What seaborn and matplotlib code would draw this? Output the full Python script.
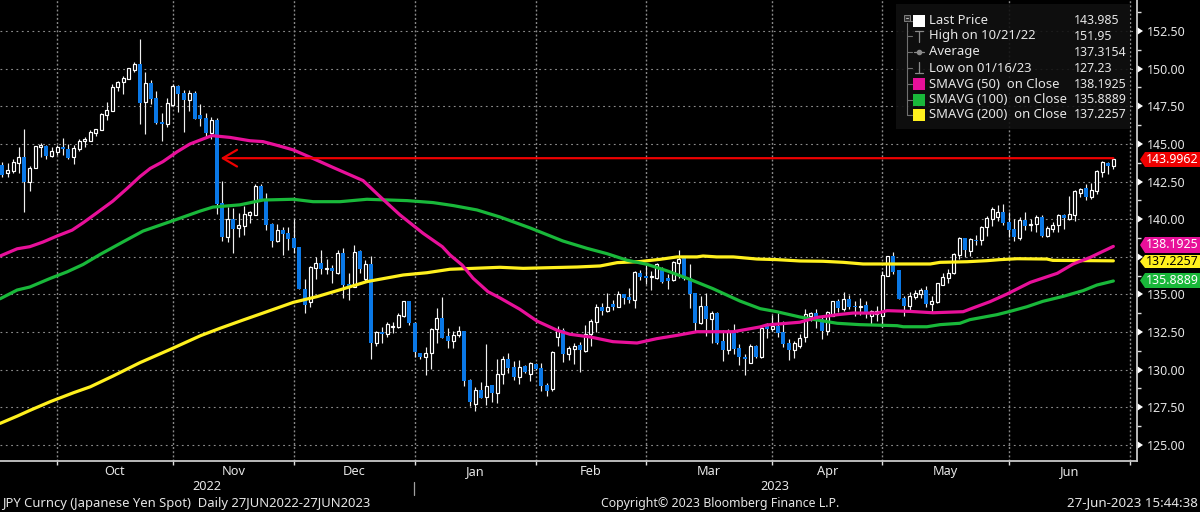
import matplotlib
matplotlib.use("Agg")
import matplotlib.pyplot as plt
from matplotlib.patches import Polygon, Rectangle
import numpy as np
import seaborn as sns

# daily candles
opens = [143.60,143.09,143.22,143.75,144.15,142.44,143.37,144.81,144.88,144.22,
         144.48,144.79,144.66,144.15,144.66,145.21,145.21,145.74,145.92,146.92,
         147.21,148.80,149.11,149.29,149.93,150.28,147.80,149.02,148.02,146.45,
         146.32,147.58,148.84,148.36,147.91,148.36,146.90,146.70,145.70,146.59,
         141.05,138.84,139.99,139.39,139.57,140.28,140.28,142.23,141.21,139.68,
         138.55,139.28,139.06,138.73,138.13,135.36,134.52,136.78,137.06,136.67,
         136.78,136.40,137.73,135.69,135.51,137.88,136.05,137.00,131.75,132.52,
         132.35,132.83,132.86,133.57,134.56,133.12,131.08,130.82,131.08,132.68,
         133.45,132.24,131.93,132.30,132.55,129.31,127.70,128.65,128.16,128.96,
         128.43,129.73,130.69,130.18,129.51,130.22,129.73,130.35,130.09,128.98,
         128.69,132.17,132.61,131.06,131.37,131.64,131.24,132.35,133.17,134.16,
         133.88,134.39,134.19,135.01,134.83,134.65,136.45,136.22,136.16,136.11,
         136.71,136.11,135.94,137.11,137.44,136.11,135.07,133.12,134.23,133.39,
         133.74,131.91,131.28,132.46,131.42,130.86,130.47,131.55,130.86,132.90,
         132.68,132.90,132.52,131.79,131.31,131.57,132.15,133.54,133.74,133.36,
         132.57,133.59,134.54,134.03,134.72,134.25,134.14,134.29,133.59,133.70,
         133.59,136.24,137.55,136.62,134.74,134.25,134.80,135.03,135.27,134.36,
         134.47,135.65,136.09,136.40,137.64,138.75,137.86,138.64,138.61,139.46,
         140.01,140.12,140.45,139.83,139.34,138.75,139.94,139.63,139.65,140.16,
         138.90,139.37,139.63,140.28,140.03,140.30,141.71,142.05,141.45,141.85,
         143.11,143.73,143.51]
closes = [142.93,143.26,143.77,144.15,142.44,143.40,144.86,144.90,144.22,144.53,
          144.77,144.64,144.08,144.70,145.21,145.30,145.76,145.96,146.98,147.25,
          148.76,149.13,149.35,150.02,150.31,147.74,149.02,147.96,146.36,146.34,
          147.69,148.84,148.31,147.91,148.36,146.67,146.67,145.70,146.59,141.01,
          138.84,140.01,139.32,139.59,140.32,140.48,142.23,141.27,139.61,138.55,
          139.28,139.01,138.68,138.11,135.36,134.30,136.82,137.06,136.67,136.73,
          136.58,137.73,135.62,135.51,137.84,136.67,137.00,131.79,132.52,132.37,
          133.01,132.92,133.63,134.56,133.12,131.19,130.82,131.08,132.72,133.45,
          132.08,131.90,132.32,132.55,129.25,127.87,128.65,128.09,128.94,128.43,
          129.69,130.69,130.09,129.51,130.20,129.85,130.44,130.02,128.91,128.58,
          131.20,132.61,131.02,131.42,131.60,131.28,132.35,133.23,134.19,133.90,
          134.16,134.19,135.05,134.76,134.61,136.49,136.18,136.11,136.22,137.04,
          135.85,135.89,137.15,137.33,136.00,135.01,133.12,134.23,133.39,133.74,
          131.79,131.28,132.52,131.35,130.86,130.73,131.55,130.84,132.75,132.68,
          132.90,132.41,131.68,131.31,131.79,132.13,133.70,133.74,133.36,132.57,
          133.81,134.54,134.07,134.69,134.14,134.18,134.25,133.81,133.87,133.92,
          136.29,137.55,136.47,134.69,134.25,134.87,135.11,135.27,134.36,134.54,
          135.73,136.18,136.42,137.68,138.75,137.97,138.66,138.57,139.50,140.05,
          140.67,140.45,139.72,139.30,138.79,139.97,139.54,139.70,140.14,138.86,
          139.41,139.61,140.28,140.10,140.34,141.89,142.03,141.45,141.94,143.22,
          143.82,143.51,143.99]
highs = [143.82,143.71,143.97,144.81,145.99,143.55,144.86,145.03,144.92,144.81,
         144.92,145.37,144.99,144.92,145.30,145.48,145.92,146.01,147.03,147.76,
         148.96,149.20,149.51,150.06,150.42,151.95,149.80,149.24,148.51,147.03,
         148.02,148.96,148.91,148.58,148.58,148.51,147.63,147.03,146.81,146.70,
         142.54,140.83,140.72,140.39,140.87,140.56,142.34,142.34,141.72,139.72,
         139.66,139.46,139.46,139.99,138.17,136.02,136.91,137.46,137.95,137.33,
         136.95,137.95,138.06,136.40,138.28,137.95,137.29,137.55,132.59,132.86,
         133.19,133.19,133.74,134.58,134.58,133.19,131.08,131.48,132.79,134.12,
         134.85,132.75,132.59,132.90,132.57,129.36,128.87,129.20,131.70,128.98,
         130.69,130.91,131.13,130.58,130.62,130.31,130.51,130.42,130.47,129.14,
         131.24,132.90,132.75,131.57,131.79,131.86,132.95,133.39,134.39,134.45,
         135.12,134.61,135.23,135.05,135.45,136.56,136.60,136.96,136.56,137.11,
         136.82,136.34,137.22,137.93,137.55,137.00,135.12,134.90,135.12,133.90,
         133.83,132.61,132.68,133.01,131.68,131.02,131.73,131.64,132.84,133.12,
         133.63,133.79,133.23,132.02,131.91,132.35,134.03,133.83,134.03,133.59,
         133.92,134.58,134.69,135.18,134.98,134.54,134.74,134.54,133.96,134.25,
         136.53,137.57,137.84,136.64,134.91,135.14,135.29,135.40,135.54,134.87,
         135.76,136.40,136.69,137.75,138.79,138.75,138.75,138.97,139.54,140.23,
         140.78,140.94,141.01,140.45,140.01,140.12,140.45,140.01,140.28,140.28,
         139.52,139.79,140.34,140.34,141.52,141.96,142.07,142.34,142.38,143.29,
         143.89,143.77,144.04]
lows = [142.78,142.78,143.04,143.09,140.45,141.87,143.37,144.15,144.02,144.13,
        144.26,144.26,143.97,143.64,144.55,144.81,145.21,145.52,145.92,146.59,
        147.21,148.53,148.31,149.29,149.75,146.32,145.65,147.65,146.32,145.21,
        146.10,147.54,147.14,145.81,147.18,146.67,146.19,145.43,145.30,140.34,
        138.55,138.50,137.77,138.84,138.95,139.77,140.28,141.27,139.28,138.17,
        138.50,137.62,137.95,137.77,135.36,133.74,134.19,136.05,136.33,136.36,
        135.74,136.36,134.74,134.63,135.51,136.40,135.91,130.69,131.59,131.75,
        132.19,132.41,132.75,133.52,132.97,130.82,130.69,129.62,130.07,131.75,
        132.08,131.46,131.46,132.19,128.91,127.61,127.23,128.09,127.65,127.85,
        127.76,129.07,129.80,129.29,129.07,129.80,129.25,130.00,128.58,128.25,
        128.55,131.55,130.51,130.62,130.40,129.87,131.20,131.55,132.50,133.61,
        133.85,133.94,134.19,134.39,134.43,134.08,135.96,135.67,135.32,136.05,
        135.78,135.38,135.89,136.11,135.94,134.12,132.57,133.06,132.24,131.79,
        131.73,130.58,131.06,131.02,130.31,129.65,130.42,130.80,130.80,132.13,
        132.57,132.19,131.53,130.66,130.80,131.46,131.81,133.25,132.77,132.04,
        132.32,133.59,133.81,133.92,134.03,133.59,133.65,133.43,133.03,133.25,
        132.81,136.20,136.35,134.69,133.54,133.92,134.69,134.74,134.14,133.85,
        134.43,135.65,135.76,136.35,137.35,137.46,137.57,138.30,138.30,138.90,
        139.57,139.85,139.63,138.84,138.53,138.61,139.30,139.19,139.12,138.84,
        138.84,139.12,139.12,139.34,139.94,139.90,141.45,141.27,141.34,141.67,
        142.78,143.00,143.33]

# moving averages, sampled along each curve (x = candle number)
sma50_x = [-0.4,2.7,5,7.4,9.9,12.7,14.7,17.2,20.1,22.7,25,26.9,29.2,31.8,34.1,36.3,38.1,41.4,45,47.4,50,
           52.9,56,60.1,65.6,68.7,72.3,76.5,80,81.4,83.6,85.6,88.3,90.5,94.1,97.2,100.9,103.2,106.9,111,
           115.4,119,122.7,126.3,132.9,137.8,139,145,148.1,151.8,154.7,159.1,160.9,165,169.2,174.7,176.5,
           179.6,182.7,186.9,191.8,194.7,197.8,202]
sma50_y = [137.55,138.03,138.17,138.48,138.87,139.27,139.76,140.42,141.2,142.04,142.82,143.37,143.82,144.48,
           144.99,145.30,145.55,145.43,145.21,145.15,144.90,144.60,144.11,143.44,142.56,141.49,140.28,139.06,
           138.17,137.62,136.95,136.07,135.18,134.76,134.01,133.23,132.61,132.35,132.17,131.86,131.77,132.06,
           132.28,132.52,132.52,132.84,132.97,133.15,133.47,133.65,133.76,133.76,133.92,133.87,133.78,133.85,
           134.10,134.52,135.03,135.80,136.40,137.02,137.46,138.19]
sma100_x = [-0.4,2.7,5,8.7,11.8,14.7,17.8,22,25.6,30.5,36,38.3,43.2,47.4,52.9,56.5,61.4,66.3,73.6,78.3,82,
            86.3,90.5,96,101.9,106.3,109.9,113.6,117.2,120.9,125,129.2,134.1,137.8,140.8,145,148.1,151.8,
            155.9,162.7,163.8,168.1,170.5,174.1,175.9,180.8,183.2,186.3,189.2,192.9,196.5,199,202]
sma100_y = [134.71,135.29,135.49,136.06,136.50,136.99,137.66,138.5,139.21,139.83,140.54,140.80,140.95,141.27,
            141.32,141.16,141.16,141.32,141.23,141.10,140.90,140.61,140.14,139.41,138.55,138.06,137.71,137.27,
            137.0,136.56,136.0,135.38,134.56,134.05,133.85,133.5,133.30,133.08,132.99,132.92,132.85,132.85,
            132.99,133.08,133.32,133.65,133.87,134.18,134.54,134.87,135.25,135.62,135.89]
sma200_x = [-0.4,2.7,5,8.7,12.9,16,20.1,25,30.5,36,39.6,43.8,48.1,52.9,57.2,61.9,66.3,72.9,77.2,81.4,85.6,
            90.5,94.7,104.5,108.7,111.8,115.9,119.6,122.7,126.3,127.4,129.9,132.9,137.2,140.8,145,149.2,
            152.9,156.5,168.7,170.5,175.4,179,181.4,184.5,189.9,191,202]
sma200_y = [126.43,126.91,127.29,127.87,128.46,128.86,129.57,130.46,131.34,132.25,132.75,133.30,133.85,134.47,
            134.85,135.36,135.85,136.29,136.44,136.67,136.73,136.80,136.73,136.82,136.89,137.11,137.18,137.33,
            137.49,137.49,137.55,137.49,137.49,137.35,137.31,137.22,137.20,137.13,137.02,137.02,137.13,137.17,
            137.24,137.31,137.37,137.35,137.26,137.23]

y_ticks = [125, 127.5, 130, 132.5, 135, 137.5, 140, 142.5, 145, 147.5, 150, 152.5]
month_ticks = [10, 31, 53, 75, 97, 117, 140, 160, 183, 205]
month_labels = ["Oct", "Nov", "Dec", "Jan", "Feb", "Mar", "Apr", "May", "Jun"]

legend_rows = [("Last Price", "143.985"), ("High on 10/21/22", "151.95"), ("Average", "137.3154"),
               ("Low on 01/16/23", "127.23"), ("SMAVG (50)  on Close", "138.1925"),
               ("SMAVG (100)  on Close", "135.8889"), ("SMAVG (200)  on Close", "137.2257")]

PINK = "#e8109a"
GREEN = "#19b83a"
YELLOW = "#fff01e"
BLUE = "#0a78e6"
RED = "#ee0000"
TXT = "#e6e6e6"
FONT = "Noto Sans"

sns.set_theme(style="dark", rc={"figure.facecolor": "black", "axes.facecolor": "black", "axes.grid": False})
plt.rcParams["font.family"] = [FONT, "DejaVu Sans"]

fig = plt.figure(figsize=(12, 5.12), dpi=100)
ax = fig.add_axes([0, 1 - 461 / 512, 1137 / 1200, 461 / 512])
ax.set_xlim(-0.418, 206.3)
ax.set_ylim(123.93, 154.56)

# grid
for t in y_ticks:
    ax.axhline(t, color="#8c8c8c", lw=0.8, ls=(0, (1.6, 3.2)), zorder=1)
for t in month_ticks:
    ax.axvline(t, color="#8c8c8c", lw=1.0, ls=(0, (1.4, 1.6)), zorder=1)

# candles
idx = np.arange(len(opens))
o, c, h, l = map(np.array, (opens, closes, highs, lows))
up = c >= o
ax.vlines(idx, l, h, color="#f0f0f0", lw=0.85, zorder=2)
ax.bar(idx[up], (c - o)[up], bottom=o[up], width=0.5, facecolor="black", edgecolor="white", lw=0.85, zorder=3)
ax.bar(idx[~up], (o - c)[~up], bottom=c[~up], width=0.68, color=BLUE, lw=0, zorder=3)

# moving averages
for xs, ys, col in [(sma200_x, sma200_y, YELLOW), (sma100_x, sma100_y, GREEN), (sma50_x, sma50_y, PINK)]:
    sns.lineplot(x=xs, y=ys, color=col, lw=2.3, ax=ax, sort=False, errorbar=None, zorder=4)

# red arrow back to the Nov level
ax.annotate("", xy=(39.7, 144.05), xytext=(202, 144.05), zorder=5,
            arrowprops=dict(arrowstyle="->,head_length=0.85,head_width=0.5", color=RED, lw=1.6,
                            shrinkA=0, shrinkB=0))

# axes, ticks
ax.set_xlabel("")
ax.set_ylabel("")
for s in ["left", "top"]:
    ax.spines[s].set_visible(False)
for s in ["right", "bottom"]:
    ax.spines[s].set_visible(True)
    ax.spines[s].set_color("#c8c8c8")
    ax.spines[s].set_linewidth(1.3)
ax.yaxis.tick_right()
# 137.50 sits under the last value tags in the terminal view
y_labels = ["" if t == 137.5 else f"{t:.2f}" for t in y_ticks]
ax.set_yticks(y_ticks, y_labels, color=TXT, fontsize=8.9, family=FONT)
ax.set_yticks([t + 1.25 for t in y_ticks], minor=True)
ax.tick_params(axis="y", which="major", pad=7, length=0, colors=TXT)
ax.tick_params(axis="y", which="minor", right=True, left=False, length=3, width=1, color="#e0e0e0")
for tk in ax.yaxis.get_major_ticks():
    tk.tick2line.set_visible(True)
    tk.tick2line.set_marker(9)
    tk.tick2line.set_markersize(6)
    tk.tick2line.set_markeredgewidth(0)
    tk.tick2line.set_markerfacecolor("white")
ax.set_xticks(month_ticks, [""] * len(month_ticks))
ax.tick_params(axis="x", which="major", length=3, width=1, color="#e0e0e0", bottom=True)
mids = [(a + b) / 2 for a, b in zip(month_ticks[:-1], month_ticks[1:])]
ax.set_xticks(mids, month_labels, minor=True, color=TXT, fontsize=9.2, family=FONT)
ax.tick_params(axis="x", which="minor", length=0, pad=3, colors=TXT)

# overlay in picture pixels for the Bloomberg furniture
pix = fig.add_axes([0, 0, 1, 1], zorder=10)
pix.set_xlim(0, 1200)
pix.set_ylim(512, 0)
pix.axis("off")
pix.patch.set_alpha(0)

pix.text(207, 486, "2022", color=TXT, fontsize=9.2, ha="center", va="center")
pix.text(775, 486, "2023", color=TXT, fontsize=9.2, ha="center", va="center")
pix.plot([414, 414], [482, 495], color="#a0a0a0", lw=0.9)
pix.text(2, 503, "JPY Curncy (Japanese Yen Spot)  Daily 27JUN2022-27JUN2023", color=TXT, fontsize=9.4,
         ha="left", va="center")
pix.text(720, 503, "Copyright\u00a9 2023 Bloomberg Finance L.P.", color=TXT, fontsize=8.9, ha="center", va="center")
pix.text(1198, 503, "27-Jun-2023 15:44:38", color=TXT, fontsize=9.6, ha="right", va="center")

# legend box
pix.add_patch(Rectangle((896, 4), 234, 125, fc="#101010", ec="none", alpha=0.9))
row_y = [20.7, 36, 52, 68, 84, 99.5, 115]
swatches = ["white", None, None, None, PINK, GREEN, YELLOW]
for (name, val), yy, sw in zip(legend_rows, row_y, swatches):
    pix.text(929, yy, name, color=TXT, fontsize=9.4, ha="left", va="center")
    pix.text(1074, yy, val, color=TXT, fontsize=8.9, ha="left", va="center")
    pix.plot([907, 912], [yy, yy], color="#707070", lw=0.8)
    if sw:
        pix.add_patch(Rectangle((913, yy - 6), 12, 12, fc=sw, ec="none"))
pix.plot([907, 907], [23, 115], color="#707070", lw=0.8)
pix.add_patch(Rectangle((904, 15), 6, 6, fc="#303030", ec="#808080", lw=0.7))
pix.plot([906, 908], [18, 18], color="#c0c0c0", lw=0.7)
g = "#8a8a8a"
pix.plot([919, 919], [31, 42], color=g, lw=0.9)
pix.plot([915, 923], [31, 31], color=g, lw=0.9)
pix.plot([914, 924], [52, 52], color=g, lw=0.9)
pix.plot([919], [52], marker="o", ms=3, color=g)
pix.plot([919, 919], [62, 73], color=g, lw=0.9)
pix.plot([915, 923], [73, 73], color=g, lw=0.9)

# last value tags
tags = [("143.9962", 159.5, RED, "white", 7.5), ("138.1925", 245, PINK, "white", 8),
        ("137.2257", 261.5, YELLOW, "black", 6.5), ("135.8889", 280.5, GREEN, "white", 7.5)]
for label, yy, col, tc, hh in tags:
    pix.add_patch(Polygon([(1140, yy), (1145, yy - hh), (1200, yy - hh), (1200, yy + hh), (1145, yy + hh)],
                          closed=True, fc=col, ec="none"))
    pix.text(1146, yy, label, color=tc, fontsize=8.9, ha="left", va="center")

fig.savefig("out.png", dpi=100, facecolor="black")
